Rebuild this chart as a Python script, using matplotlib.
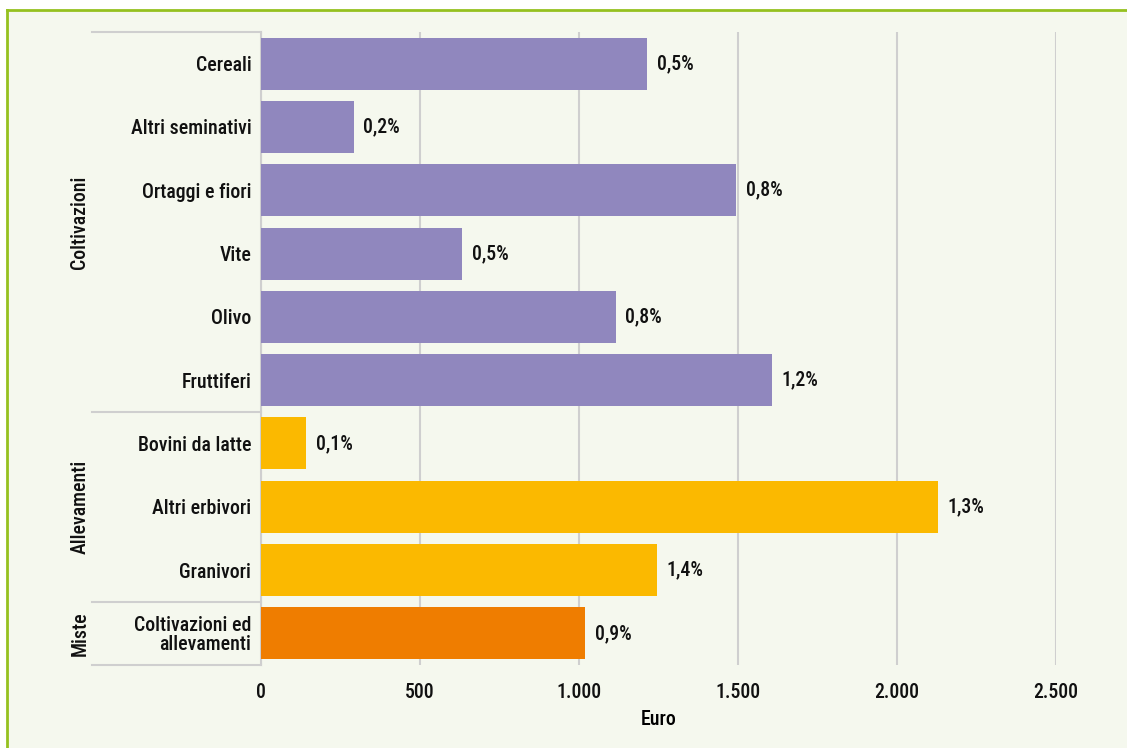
import numpy as np
import matplotlib.pyplot as plt
from matplotlib.lines import Line2D
from matplotlib.patches import Rectangle
from matplotlib.transforms import blended_transform_factory

plt.rcParams['font.family'] = ['Roboto Condensed', 'Roboto', 'DejaVu Sans']

# data
categories = ['Cereali', 'Altri seminativi', 'Ortaggi e fiori', 'Vite', 'Olivo',
              'Fruttiferi', 'Bovini da latte', 'Altri erbivori', 'Granivori',
              'Coltivazioni ed\nallevamenti']
euro = [1214, 292, 1494, 632, 1116, 1607, 142, 2129, 1245, 1019]
pct = [0.5, 0.2, 0.8, 0.5, 0.8, 1.2, 0.1, 1.3, 1.4, 0.9]
groups = ['Coltivazioni', 'Allevamenti', 'Miste']
group_size = [6, 3, 1]
group_colors = ['#9087be', '#fbb900', '#ef7d00']
xticks = [0, 500, 1000, 1500, 2000, 2500]

colors = []
for c, n in zip(group_colors, group_size):
    colors += [c] * n

W, H = 1127, 748
FS = 14.3
fig = plt.figure(figsize=(W / 100, H / 100), dpi=100, facecolor='white')

# panel background with green top/left border
fig.patches.append(Rectangle((7 / W, 0), 1, 1 - 10 / H, transform=fig.transFigure,
                             facecolor='#f5f8ee', edgecolor='none', zorder=-10))
green = '#95c11f'
fig.lines.append(Line2D([7 / W, 1], [1 - 10 / H, 1 - 10 / H], transform=fig.transFigure,
                        color=green, lw=2, zorder=-5))
fig.lines.append(Line2D([7 / W, 7 / W], [0, 1 - 10 / H], transform=fig.transFigure,
                        color=green, lw=2, zorder=-5))

ax = fig.add_axes([261 / W, 1 - 665 / H, (1056 - 261) / W, (665 - 32) / H])
ax.set_facecolor('none')

y = np.arange(len(categories))
ax.barh(y, euro, height=0.82, color=colors, zorder=3)
for yi, v, p in zip(y, euro, pct):
    ax.text(v + 30, yi, f'{p:.1f}%'.replace('.', ','), va='center', ha='left',
            fontsize=FS, fontweight='medium', color='#111111')

ax.set_xlim(0, 2500)
ax.set_ylim(len(categories) - 0.5, -0.5)
ax.set_xticks(xticks)
ax.set_xticklabels([f'{t:,}'.replace(',', '.') for t in xticks], fontsize=FS,
                   fontweight='medium')
ax.set_yticks(y)
ax.set_yticklabels(categories, fontsize=FS, fontweight='medium', linespacing=1.0)
ax.tick_params(axis='both', length=0, colors='#111111')
ax.tick_params(axis='y', pad=7)
ax.tick_params(axis='x', pad=13)
ax.grid(axis='x', color='#cfcfcf', lw=1.5, zorder=0)
for s in ['top', 'right', 'bottom']:
    ax.spines[s].set_visible(False)
ax.spines['left'].set_color('#cfcfcf')
ax.spines['left'].set_linewidth(1.5)
ax.set_xlabel('Euro', fontsize=FS, fontweight='medium', labelpad=6)

# group separators and labels
tr = blended_transform_factory(fig.transFigure, ax.transData)
bounds = np.concatenate([[0], np.cumsum(group_size)]) - 0.5
for b in bounds:
    fig.lines.append(Line2D([92 / W, 261 / W], [b, b], transform=tr,
                            color='#cfcfcf', lw=1.5))
for g, lo, hi in zip(groups, bounds[:-1], bounds[1:]):
    fig.text(80 / W, (lo + hi) / 2, g, transform=tr, rotation=90,
             ha='center', va='center', fontsize=FS, fontweight='medium',
             color='#111111')

plt.savefig('out.png', dpi=100, facecolor=fig.get_facecolor())
